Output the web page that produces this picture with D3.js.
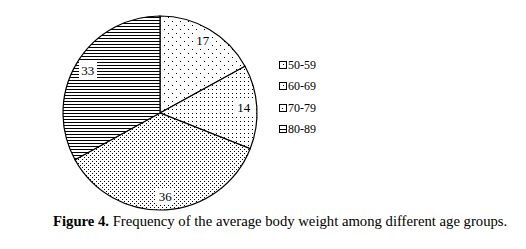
<!DOCTYPE html>
<html>
<head>
<meta charset="utf-8">
<script src="https://cdn.jsdelivr.net/npm/d3@7"></script>
<style>
  body { margin: 0; background: #fff; }
  text { font-family: "Liberation Serif", "Times New Roman", serif; fill: #000; }
</style>
</head>
<body>
<div id="chart"></div>
<script>
var svgWidth = 526;
var svgHeight = 249;

// data
var ageGroups = ["50-59", "60-69", "70-79", "80-89"];
var frequencies = [17, 14, 36, 33];
var patternIds = ["dotSparse", "dotMid", "dotDense", "hLines"];

var cx = 160, cy = 113, radius = 97;

var svg = d3.select("#chart")
  .append("svg")
  .attr("width", svgWidth)
  .attr("height", svgHeight)
  .attr("shape-rendering", "crispEdges");

var defs = svg.append("defs");

// dotted fills: tile size plus dot offsets inside the tile
function dotPattern(id, w, h, dots) {
  var p = defs.append("pattern")
    .attr("id", id)
    .attr("patternUnits", "userSpaceOnUse")
    .attr("width", w)
    .attr("height", h);
  p.append("rect").attr("width", w).attr("height", h).attr("fill", "#fff");
  dots.forEach(function(c) {
    p.append("rect")
      .attr("x", c[0]).attr("y", c[1])
      .attr("width", 1).attr("height", 1)
      .attr("fill", "#000");
  });
}
dotPattern("dotSparse", 8, 8, [[0, 0], [4, 4]]);
dotPattern("dotMid", 4, 4, [[0, 0]]);
dotPattern("dotDense", 4, 4, [[0, 0], [2, 2]]);

var lines = defs.append("pattern")
  .attr("id", "hLines")
  .attr("patternUnits", "userSpaceOnUse")
  .attr("width", 4)
  .attr("height", 3);
lines.append("rect").attr("width", 4).attr("height", 3).attr("fill", "#fff");
lines.append("rect").attr("y", 0).attr("width", 4).attr("height", 1).attr("fill", "#000");

var pieGroup = svg.append("g")
  .attr("transform", `translate(${cx}, ${cy})`);

var pie = d3.pie().sort(null).value(d => d);
var arcs = pie(frequencies);

var arc = d3.arc().innerRadius(0).outerRadius(radius);
var labelArc = d3.arc().innerRadius(84).outerRadius(84);

pieGroup.selectAll("path.slice")
  .data(arcs)
  .enter()
  .append("path")
  .attr("class", "slice")
  .attr("d", arc)
  .attr("fill", (d, i) => `url(#${patternIds[i]})`)
  .attr("stroke", "#000")
  .attr("stroke-width", 1.2)
  .attr("shape-rendering", "geometricPrecision");

// value labels with white boxes
var labels = pieGroup.selectAll("g.lbl")
  .data(arcs)
  .enter()
  .append("g")
  .attr("class", "lbl")
  .attr("transform", d => `translate(${labelArc.centroid(d)})`);

labels.append("rect")
  .attr("x", -9).attr("y", -8)
  .attr("width", 18).attr("height", 16)
  .attr("fill", "#fff");

labels.append("text")
  .attr("text-anchor", "middle")
  .attr("dy", "0.35em")
  .attr("font-size", 13)
  .text(d => d.data);

// legend
var legend = svg.append("g")
  .attr("transform", "translate(279, 65)");

var items = legend.selectAll("g")
  .data(ageGroups)
  .enter()
  .append("g")
  .attr("transform", (d, i) => `translate(0, ${Math.round(i * 21.4)})`);

items.append("rect")
  .attr("x", 0.5).attr("y", -3.5)
  .attr("width", 7).attr("height", 7)
  .attr("fill", "#fff")
  .attr("stroke", "#000")
  .attr("stroke-width", 1);

// tiny glyph inside each legend box
items.each(function(d, i) {
  var g = d3.select(this);
  if (i === 3) {
    g.append("rect").attr("x", 1).attr("y", 0).attr("width", 6).attr("height", 1).attr("fill", "#000");
  } else if (i === 2) {
    g.append("rect").attr("x", 3).attr("y", 0).attr("width", 1).attr("height", 1).attr("fill", "#000");
  } else {
    g.append("rect").attr("x", 4).attr("y", -1).attr("width", 1).attr("height", 1).attr("fill", "#000");
  }
});

items.append("text")
  .attr("x", 9)
  .attr("dy", "0.35em")
  .attr("font-size", 12)
  .text(d => d);

// caption
var caption = svg.append("text")
  .attr("x", 53)
  .attr("y", 226)
  .attr("font-size", 14.7);
caption.append("tspan").attr("font-weight", "bold").text("Figure 4.");
caption.append("tspan").text(" Frequency of the average body weight among different age groups.");
</script>
</body>
</html>
